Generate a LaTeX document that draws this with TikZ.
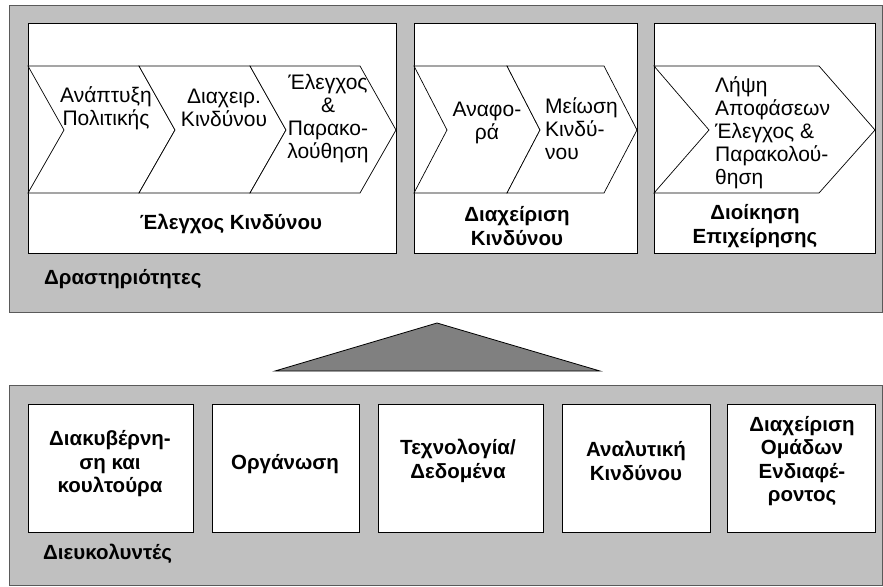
\documentclass[tikz,border=0pt]{standalone}
\usepackage{fontspec}
\setmainfont{Liberation Sans}
\begin{document}
\begin{tikzpicture}[x=1pt,y=-1pt,
  panel/.style={fill=panelgray,draw=panelline,line width=0.8pt},
  wbox/.style={fill=white,draw=black,line width=0.8pt},
  chev/.style={fill=white,draw=black,line width=0.7pt,line join=miter},
  rtxt/.style={font=\fontsize{21}{23}\selectfont,align=center,inner sep=0pt},
  ltxt/.style={font=\fontsize{21}{23}\selectfont,align=left,inner sep=0pt,anchor=west},
  btxt/.style={font=\bfseries\fontsize{20.5}{23.5}\selectfont,align=center,inner sep=0pt},
  blab/.style={font=\bfseries\fontsize{20.5}{23.5}\selectfont,inner sep=0pt,anchor=west}]
\definecolor{panelgray}{HTML}{C0C0C0}
\definecolor{panelline}{HTML}{5A5A5A}
\definecolor{trigray}{HTML}{808080}
\useasboundingbox (0,0) rectangle (883,586);
% top panel
\draw[panel] (9,5) rectangle (882,312);
\node[wbox,anchor=north west,minimum width=368pt,minimum height=230pt,inner sep=0pt] (box1) at (28,23) {};
\node[wbox,anchor=north west,minimum width=223pt,minimum height=230pt,inner sep=0pt] (box2) at (414,23) {};
\node[wbox,anchor=north west,minimum width=221pt,minimum height=230pt,inner sep=0pt] (box3) at (654,23) {};
% chevrons box 1
\draw[chev] (28,66) -- (139,66) -- (175,130) -- (139,193) -- (28,193) -- (64,130) -- cycle;
\draw[chev] (139,66) -- (250,66) -- (286,130) -- (250,193) -- (139,193) -- (175,130) -- cycle;
\draw[chev] (250,66) -- (360,66) -- (396,130) -- (360,193) -- (250,193) -- (286,130) -- cycle;
% chevrons box 2
\draw[chev] (414,66) -- (507,66) -- (540,130) -- (507,193) -- (414,193) -- (447,130) -- cycle;
\draw[chev] (507,66) -- (604,66) -- (637,130) -- (604,193) -- (507,193) -- (540,130) -- cycle;
% chevron box 3
\draw[chev] (654,66) -- (819,66) -- (875,130) -- (819,193) -- (654,193) -- (709,130) -- cycle;
% chevron texts
\node[rtxt] (c1) at (106,108) {Ανάπτυξη\\Πολιτικής};
\node[rtxt] (c2) at (224,108) {Διαχειρ.\\Κινδύνου};
\node[rtxt] (c3) at (328,119) {Έλεγχος\\\&\\Παρακο-\\λούθηση};
\node[rtxt] (c4) at (487,123) {Αναφο-\\ρά};
\node[ltxt] (c5) at (545,129) {Μείωση\\Κινδύ-\\νου};
\node[ltxt] (c6) at (715,133) {Λήψη\\Αποφάσεων\\Έλεγχος \&\\Παρακολού-\\θηση};
% box titles
\node[btxt] (t1) at (231,224) {Έλεγχος Κινδύνου};
\node[btxt] (t2) at (517,226) {Διαχείριση\\Κινδύνου};
\node[btxt] (t3) at (755,226) {Διοίκηση\\Επιχείρησης};
\node[blab] (act) at (44,279) {Δραστηριότητες};
% triangle
\draw[fill=trigray,draw=black,line width=0.8pt] (275,371) -- (437,323) -- (600,371) -- cycle;
% bottom panel
\draw[panel] (9,385) rectangle (882,585);
\node[wbox,anchor=north west,minimum width=165pt,minimum height=128pt,inner sep=0pt] (b1) at (28,404) {};
\node[wbox,anchor=north west,minimum width=147pt,minimum height=128pt,inner sep=0pt] (b2) at (212,404) {};
\node[wbox,anchor=north west,minimum width=165pt,minimum height=128pt,inner sep=0pt] (b3) at (378,404) {};
\node[wbox,anchor=north west,minimum width=148pt,minimum height=128pt,inner sep=0pt] (b4) at (562,404) {};
\node[wbox,anchor=north west,minimum width=148pt,minimum height=128pt,inner sep=0pt] (b5) at (727,404) {};
\node[btxt] (l1) at (110,464) {Διακυβέρνη-\\ση και\\κουλτούρα};
\node[btxt] (l2) at (285,464) {Οργάνωση};
\node[btxt] (l3) at (458,461) {Τεχνολογία/\\Δεδομένα};
\node[btxt] (l4) at (636,461) {Αναλυτική\\Κινδύνου};
\node[btxt] (l5) at (802,461) {Διαχείριση\\Ομάδων\\Ενδιαφέ-\\ροντος};
\node[blab] (fac) at (43,554) {Διευκολυντές};
\end{tikzpicture}
\end{document}
